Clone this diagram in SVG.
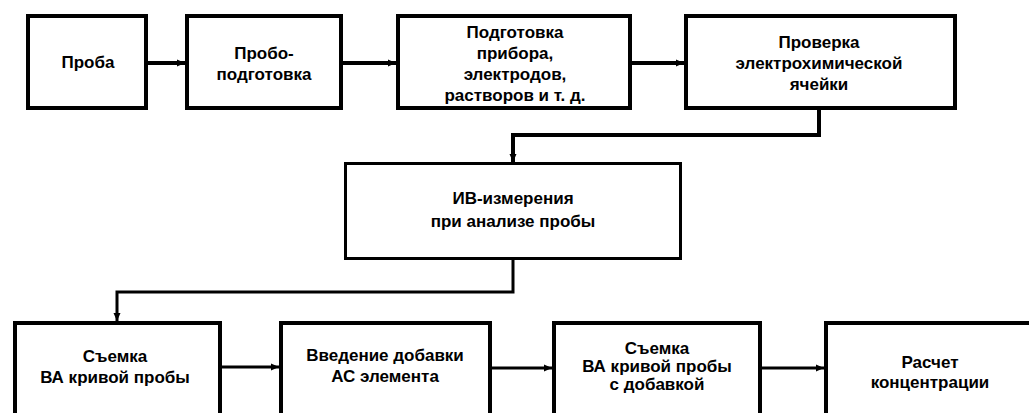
<svg xmlns="http://www.w3.org/2000/svg" width="1029" height="413" viewBox="0 0 1029 413">
<style>
.box{fill:#fff;stroke:#000;stroke-width:4}
.thin{stroke-width:3}
.t{font-family:"Liberation Sans",Arial,sans-serif;font-weight:bold;font-size:17px;fill:#000;text-anchor:middle}
.c{fill:none;stroke:#000;stroke-width:4}
.c2{fill:none;stroke:#000;stroke-width:3}
</style>
<defs>
<marker id="ah" markerUnits="userSpaceOnUse" markerWidth="10" markerHeight="10" refX="8" refY="5" orient="auto">
<path d="M0,1.5 L8,5 L0,8.5 Z" fill="#000"/>
</marker>
</defs>
<rect width="1029" height="413" fill="#fff"/>
<g id="connectors">
<path class="c" d="M148,63 H185" marker-end="url(#ah)"/>
<path class="c" d="M343,63 H396" marker-end="url(#ah)"/>
<path class="c" d="M632,63 H684" marker-end="url(#ah)"/>
<path class="c" d="M819,110 V135 H513 V162" marker-end="url(#ah)"/>
<path class="c2" d="M513,260 V292 H117 V321" marker-end="url(#ah)"/>
<path class="c2" d="M222,367 H279" marker-end="url(#ah)"/>
<path class="c2" d="M492,368 H552" marker-end="url(#ah)"/>
<path class="c2" d="M762,368 H824" marker-end="url(#ah)"/>
</g>
<g id="n1"><rect class="box" x="28" y="16" width="118" height="92"/>
<text class="t" x="88" y="68">Проба</text></g>
<g id="n2"><rect class="box" x="187" y="16" width="154" height="92"/>
<text class="t" x="264" y="59">Пробо-</text><text class="t" x="264" y="80">подготовка</text></g>
<g id="n3"><rect class="box" x="398" y="16" width="232" height="92"/>
<text class="t" x="515" y="38">Подготовка</text><text class="t" x="515" y="59">прибора,</text><text class="t" x="515" y="80">электродов,</text><text class="t" x="515" y="101">растворов и т. д.</text></g>
<g id="n4"><rect class="box" x="686" y="16" width="269" height="92"/>
<text class="t" x="819" y="48">Проверка</text><text class="t" x="819" y="69">электрохимической</text><text class="t" x="819" y="90">ячейки</text></g>
<g id="n5"><rect class="box thin" x="345.5" y="163.5" width="335" height="95"/>
<text class="t" x="513" y="204">ИВ-измерения</text><text class="t" x="513" y="227">при анализе пробы</text></g>
<g id="n6"><rect class="box" x="15" y="323" width="205" height="110"/>
<text class="t" x="115" y="362">Съемка</text><text class="t" x="115" y="383">ВА кривой пробы</text></g>
<g id="n7"><rect class="box" x="281" y="323" width="209" height="110"/>
<text class="t" x="385" y="361">Введение добавки</text><text class="t" x="385" y="382">АС элемента</text></g>
<g id="n8"><rect class="box" x="554" y="323" width="206" height="110"/>
<text class="t" x="657" y="354">Съемка</text><text class="t" x="657" y="372">ВА кривой пробы</text><text class="t" x="657" y="390">с добавкой</text></g>
<g id="n9"><rect class="box" x="826" y="323" width="215" height="110"/>
<text class="t" x="930" y="368">Расчет</text><text class="t" x="930" y="388">концентрации</text></g>
</svg>
